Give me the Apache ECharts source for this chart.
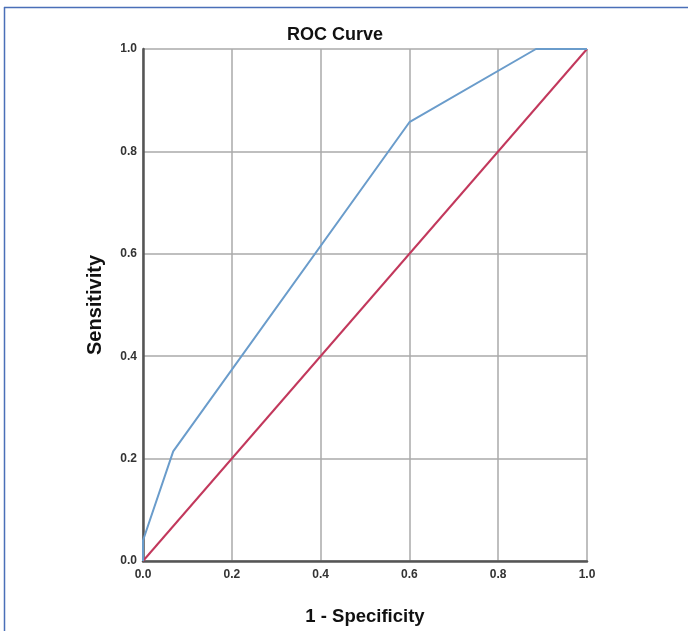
<!DOCTYPE html>
<html>
<head>
<meta charset="utf-8">
<script src="https://cdn.jsdelivr.net/npm/echarts@6/dist/echarts.min.js"></script>
<style>
html,body{margin:0;padding:0;background:#fff;}
#chart{width:688px;height:631px;}
</style>
</head>
<body>
<div id="chart"></div>
<script>
var rocX = [0, 0, 0.068, 0.6, 0.885, 1];
var rocY = [0, 0.04, 0.214, 0.857, 1, 1];
var refX = [0, 1];
var refY = [0, 1];
var ticks = [0, 0.2, 0.4, 0.6, 0.8, 1.0];

var chart = echarts.init(document.getElementById('chart'), null, {renderer: 'canvas'});
var font = '"Liberation Sans", Arial, sans-serif';
chart.setOption({
  backgroundColor: '#fff',
  animation: false,
  title: {
    text: 'ROC Curve',
    left: 330, top: 21,
    textAlign: 'center',
    textStyle: {fontFamily: font, fontWeight: 'bold', fontSize: 18, color: '#111'}
  },
  grid: {left: 143, right: 101, top: 49, bottom: 68, containLabel: false},
  xAxis: {
    type: 'value', min: 0, max: 1, interval: 0.2,
    name: '1 - Specificity', nameLocation: 'middle', nameGap: 46,
    nameTextStyle: {fontFamily: font, fontWeight: 'bold', fontSize: 18.5, color: '#111'},
    axisLine: {lineStyle: {color: '#555', width: 2.5}},
    axisTick: {show: false},
    splitLine: {show: true, lineStyle: {color: '#aaaaaa', width: 1.5}},
    axisLabel: {fontFamily: font, fontWeight: 'bold', fontSize: 12, color: '#333', margin: 8,
      formatter: function (v) { return v.toFixed(1); }}
  },
  yAxis: {
    type: 'value', min: 0, max: 1, interval: 0.2,
    name: 'Sensitivity', nameLocation: 'middle', nameGap: 38, nameRotate: 90,
    nameTextStyle: {fontFamily: font, fontWeight: 'bold', fontSize: 20, color: '#111'},
    axisLine: {show: true, lineStyle: {color: '#555', width: 2.5}},
    axisTick: {show: false},
    splitLine: {show: true, lineStyle: {color: '#aaaaaa', width: 1.5}},
    axisLabel: {fontFamily: font, fontWeight: 'bold', fontSize: 12, color: '#333', margin: 6,
      formatter: function (v) { return v.toFixed(1); }}
  },
  series: [
    {
      type: 'line', name: 'Reference',
      data: refX.map(function (x, i) { return [x, refY[i]]; }),
      symbol: 'none', lineStyle: {color: '#c2385c', width: 2}, z: 3
    },
    {
      type: 'line', name: 'ROC',
      data: rocX.map(function (x, i) { return [x, rocY[i]]; }),
      symbol: 'none', lineStyle: {color: '#6a9ccb', width: 2}, z: 4
    }
  ],
  graphic: [
    {type: 'line', shape: {x1: 4, y1: 7.5, x2: 688, y2: 7.5}, style: {stroke: '#4a6fb8', lineWidth: 1.5}, silent: true},
    {type: 'line', shape: {x1: 4.5, y1: 7, x2: 4.5, y2: 631}, style: {stroke: '#4a6fb8', lineWidth: 1.5}, silent: true}
  ]
});
</script>
</body>
</html>
